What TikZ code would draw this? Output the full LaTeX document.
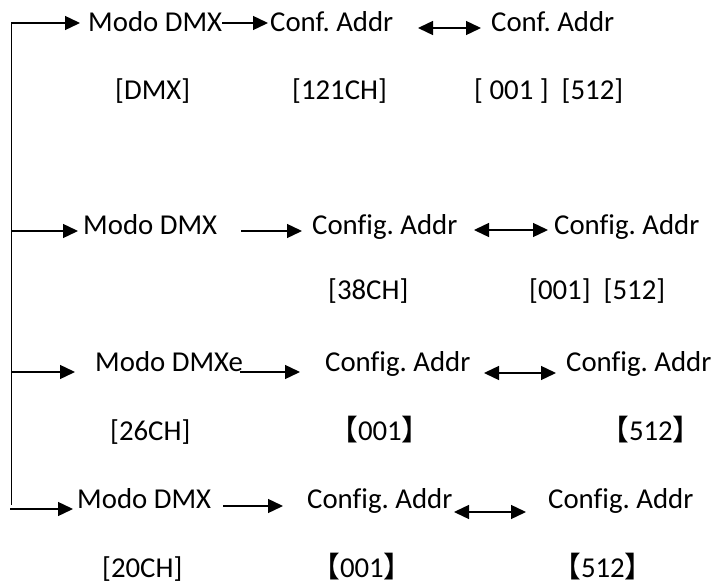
\documentclass[tikz,border=0pt]{standalone}
\usepackage{fontspec}
\setmainfont{Carlito}[Ligatures=NoCommon]
\newfontfamily\cjk{Noto Sans CJK SC}
\usetikzlibrary{arrows.meta}
\frenchspacing
\tikzset{
  lbl/.style={anchor=base west, inner sep=0pt, font=\fontsize{28.8}{34}\selectfont},
  arr/.style={line width=1.4pt, -{Triangle[length=15pt,width=14pt]}},
  darr/.style={line width=1.4pt, {Triangle[length=15pt,width=14pt]}-{Triangle[length=15pt,width=14pt]}}
}
\begin{document}
\begin{tikzpicture}[x=1pt,y=-1pt]
\path[use as bounding box] (0,0) rectangle (716,588);
% row 1
\node[lbl] (m1) at (88,32) {Modo DMX};
\node[lbl] (c1) at (270,32) {Conf. Addr};
\node[lbl] (c1b) at (491,32) {Conf. Addr};
\node[lbl] (s1a) at (115,100) {[DMX]};
\node[lbl] (s1b) at (292,100) {[121CH]};
\node[lbl] (s1c) at (474,100) {[ 001 ]\ \ [512]};
% row 2
\node[lbl] (m2) at (83,235) {Modo DMX};
\node[lbl] (c2) at (312,235) {Config. Addr};
\node[lbl] (c2b) at (554,235) {Config. Addr};
\node[lbl] (s2b) at (328,300) {[38CH]};
\node[lbl] (s2c) at (529,300) {[001]\ \ [512]};
% row 3
\node[lbl] (m3) at (95,372) {Modo DMXe};
\node[lbl] (c3) at (325,372) {Config. Addr};
\node[lbl] (c3b) at (566,372) {Config. Addr};
\node[lbl] (s3a) at (110,441) {[26CH]};
\node[lbl] (s3b) at (329,441) {{\cjk 【}001{\cjk 】}};
\node[lbl] (s3c) at (600,441) {{\cjk 【}512{\cjk 】}};
% row 4
\node[lbl] (m4) at (77,508) {Modo DMX};
\node[lbl] (c4) at (307,508) {Config. Addr};
\node[lbl] (c4b) at (548,508) {Config. Addr};
\node[lbl] (s4a) at (102,577) {[20CH]};
\node[lbl] (s4b) at (311,577) {{\cjk 【}001{\cjk 】}};
\node[lbl] (s4c) at (552,577) {{\cjk 【}512{\cjk 】}};
% trunk
\coordinate (vt) at (11.5,23);
\coordinate (vb) at (11.5,505);
\draw[arr] (vb) -- (vt) -- ([shift={(-8,-9)}]m1.base west);
% row 1 connectors
\draw[arr] ([shift={(134,-9)}]m1.base west) -- ([shift={(-2,-9)}]c1.base west);
\draw[darr] ([shift={(148,-4)}]c1.base west) -- ([shift={(-10,-4)}]c1b.base west);
% row 2 connectors
\draw[arr] ([shift={(-71,-4)}]m2.base west) -- ([shift={(-5,-4)}]m2.base west);
\draw[arr] ([shift={(158,-4)}]m2.base west) -- ([shift={(-10,-4)}]c2.base west);
\draw[darr] ([shift={(162,-5)}]c2.base west) -- ([shift={(-6,-5)}]c2b.base west);
% row 3 connectors
\draw[arr] ([shift={(-83,0)}]m3.base west) -- ([shift={(-20,0)}]m3.base west);
\draw[arr] ([shift={(145,0)}]m3.base west) -- ([shift={(-25,0)}]c3.base west);
\draw[darr] ([shift={(159,1)}]c3.base west) -- ([shift={(-10,1)}]c3b.base west);
% row 4 connectors
\draw[arr] ([shift={(-67,1)}]m4.base west) -- ([shift={(-4,1)}]m4.base west);
\draw[arr] ([shift={(146,-2)}]m4.base west) -- ([shift={(-24,-2)}]c4.base west);
\draw[darr] ([shift={(147,4)}]c4.base west) -- ([shift={(-22,4)}]c4b.base west);
\end{tikzpicture}
\end{document}
